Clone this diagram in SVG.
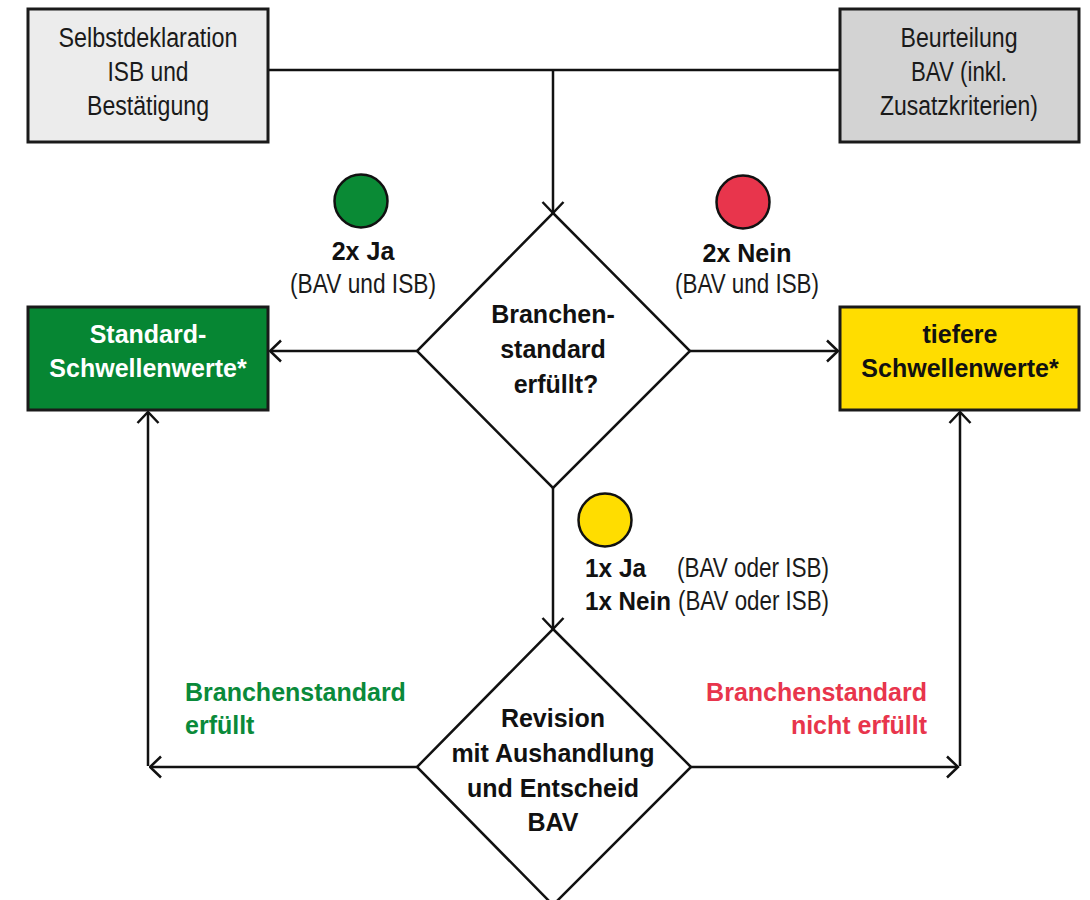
<svg xmlns="http://www.w3.org/2000/svg" width="1090" height="900" viewBox="0 0 1090 900">
<style>
.reg{font-family:"Liberation Sans",Arial,sans-serif;font-size:27px;fill:#1a1a1a;text-anchor:middle}
.bold{font-family:"Liberation Sans",Arial,sans-serif;font-size:25px;font-weight:bold;fill:#111;text-anchor:middle}
.box{stroke:#1a1a1a;stroke-width:3}
.line{stroke:#111;stroke-width:2.5;fill:none}
.dia{fill:#fff;stroke:#111;stroke-width:2.5}
.dot{stroke:#111;stroke-width:2.5}
</style>
<defs>
<marker id="arr" viewBox="0 0 14 24" refX="12.5" refY="12" markerWidth="14" markerHeight="24" markerUnits="userSpaceOnUse" orient="auto">
<path d="M1.5,1.5 L12.5,12 L1.5,22.5" fill="none" stroke="#111" stroke-width="2.5"/>
</marker>
</defs>
<rect width="1090" height="900" fill="#fff"/>

<g id="connectors">
<path class="line" d="M268,70 H840"/>
<path class="line" d="M553,70 V213" marker-end="url(#arr)"/>
<path class="line" d="M417,351 H270" marker-end="url(#arr)"/>
<path class="line" d="M690,351 H838" marker-end="url(#arr)"/>
<path class="line" d="M553,488 V629" marker-end="url(#arr)"/>
<path class="line" d="M417,767 H150" marker-end="url(#arr)"/>
<path class="line" d="M148,766 V412" marker-end="url(#arr)"/>
<path class="line" d="M691,767 H958" marker-end="url(#arr)"/>
<path class="line" d="M960,766 V412" marker-end="url(#arr)"/>
</g>

<g id="selbstdeklaration">
<rect class="box" x="28" y="9" width="240" height="133" fill="#ececec"/>
<text class="reg" x="148" y="47" textLength="179" lengthAdjust="spacingAndGlyphs">Selbstdeklaration</text>
<text class="reg" x="148" y="81" textLength="81" lengthAdjust="spacingAndGlyphs">ISB und</text>
<text class="reg" x="148" y="115" textLength="122" lengthAdjust="spacingAndGlyphs">Bestätigung</text>
</g>

<g id="beurteilung">
<rect class="box" x="840" y="9" width="239" height="133" fill="#d3d3d3"/>
<text class="reg" x="959" y="47" textLength="117" lengthAdjust="spacingAndGlyphs">Beurteilung</text>
<text class="reg" x="959" y="81" textLength="96" lengthAdjust="spacingAndGlyphs">BAV (inkl.</text>
<text class="reg" x="959" y="115" textLength="158" lengthAdjust="spacingAndGlyphs">Zusatzkriterien)</text>
</g>

<g id="branchenstandard-frage">
<polygon class="dia" points="553,213 690,351 553,488 417,351"/>
<text class="bold" x="553" y="323">Branchen-</text>
<text class="bold" x="553" y="358">standard</text>
<text class="bold" x="556" y="393">erfüllt?</text>
</g>

<g id="standard-schwellenwerte">
<rect class="box" x="28" y="307" width="240" height="103" fill="#068633"/>
<text class="bold" x="148" y="343" style="fill:#fff">Standard-</text>
<text class="bold" x="148" y="377" style="fill:#fff">Schwellenwerte*</text>
</g>

<g id="tiefere-schwellenwerte">
<rect class="box" x="840" y="307" width="239" height="103" fill="#ffdd00"/>
<text class="bold" x="960" y="343">tiefere</text>
<text class="bold" x="960" y="377">Schwellenwerte*</text>
</g>

<g id="ja-2x">
<circle class="dot" cx="361" cy="201" r="26.5" fill="#0a8a35"/>
<text class="bold" x="363" y="260">2x Ja</text>
<text class="reg" x="363" y="293" textLength="146" lengthAdjust="spacingAndGlyphs">(BAV und ISB)</text>
</g>

<g id="nein-2x">
<circle class="dot" cx="743" cy="202" r="26.5" fill="#e8354c"/>
<text class="bold" x="747" y="262">2x Nein</text>
<text class="reg" x="747" y="293" textLength="144" lengthAdjust="spacingAndGlyphs">(BAV und ISB)</text>
</g>

<g id="ja-nein-1x">
<circle class="dot" cx="605" cy="520" r="26.5" fill="#ffdd00"/>
<text class="bold" x="585" y="577" style="text-anchor:start" textLength="61" lengthAdjust="spacingAndGlyphs">1x Ja</text>
<text class="reg" x="677" y="577" style="text-anchor:start" textLength="152" lengthAdjust="spacingAndGlyphs">(BAV oder ISB)</text>
<text class="bold" x="585" y="610" style="text-anchor:start" textLength="86" lengthAdjust="spacingAndGlyphs">1x Nein</text>
<text class="reg" x="678" y="610" style="text-anchor:start" textLength="151" lengthAdjust="spacingAndGlyphs">(BAV oder ISB)</text>
</g>

<g id="revision">
<polygon class="dia" points="553,629 691,767 553,905 417,767"/>
<text class="bold" x="553" y="727">Revision</text>
<text class="bold" x="553" y="762">mit Aushandlung</text>
<text class="bold" x="553" y="797">und Entscheid</text>
<text class="bold" x="553" y="831">BAV</text>
</g>

<g id="label-erfuellt">
<text class="bold" x="185" y="701" style="text-anchor:start;fill:#0a8a3a">Branchenstandard</text>
<text class="bold" x="185" y="734" style="text-anchor:start;fill:#0a8a3a">erfüllt</text>
</g>

<g id="label-nicht-erfuellt">
<text class="bold" x="927" y="701" style="text-anchor:end;fill:#e8354c">Branchenstandard</text>
<text class="bold" x="927" y="734" style="text-anchor:end;fill:#e8354c">nicht erfüllt</text>
</g>
</svg>
